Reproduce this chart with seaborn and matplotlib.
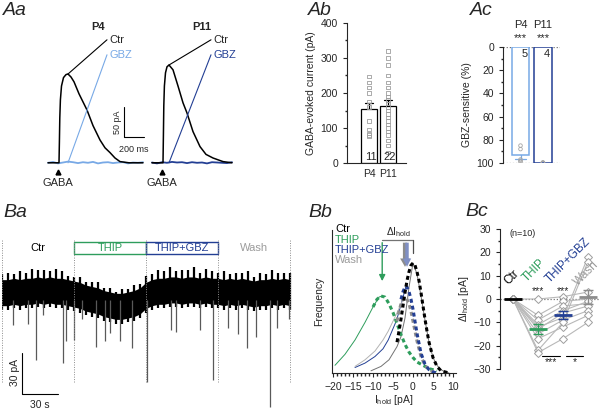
import numpy as np
import pandas as pd
import matplotlib
matplotlib.use("Agg")
import matplotlib.pyplot as plt
from matplotlib.patches import Rectangle
import seaborn as sns

# colours
GREEN = "#2e9d5c"
LBLUE = "#78a9e6"
DBLUE = "#233f94"
GREY = "#9b9b9b"

# ---- Aa: GABA evoked currents (time ms, current pA)
stim_t = 0
p4_ctr_t = [-110, -10, 0, 4, 8, 14, 25, 45, 70, 90, 120, 150, 200, 280, 340, 410, 460, 510, 560, 610, 700, 840]
p4_ctr_i = [0, 0, 0, 35, 75, 105, 128, 142, 147, 148, 143, 135, 115, 88, 62, 38, 25, 17, 8, 2, 0, 0]
p11_ctr_t = [-110, -10, 0, 4, 8, 14, 25, 40, 60, 100, 150, 200, 240, 300, 370, 430, 500, 600, 690]
p11_ctr_i = [0, 0, 0, 45, 95, 128, 150, 160, 163, 155, 128, 100, 83, 52, 27, 14, 8, 2, 0]
p4_gbz_t = [-110, -60, -10, 40, 90, 140, 190, 240, 290, 340, 390, 440, 490, 540, 590, 640, 690, 740, 790, 840]
p4_gbz_i = [0, 1.5, -1, 0.5, 2, 1, -0.5, 1, 0, 1.5, -1, 0.5, 1, -0.5, 0.5, 1, -1, 0.5, 0, 1]
p11_gbz_t = [-110, -60, -10, 40, 90, 140, 190, 240, 290, 340, 390, 440, 490, 540, 590, 640, 690]
p11_gbz_i = [0.5, -1, 1, 0, 1.5, 0.5, 1, -0.5, 1, 0, 0.5, -1, 1, 0.5, 0, -0.5, 1]

# ---- Ab: GABA-evoked current amplitudes (pA)
ages = ["P4", "P11"]
ab_p4 = [248, 230, 215, 200, 175, 160, 120, 95, 85, 80, 75]
ab_p11 = [320, 300, 280, 250, 230, 215, 200, 190, 180, 170, 160,
          150, 140, 130, 120, 110, 100, 90, 80, 65, 50, 30]

# ---- Ac: GBZ-sensitive fraction (%)
ac_p4 = [85, 88, 97, 98, 99]
ac_p11 = [99.5, 100, 100, 99.8]

# ---- Ba: holding current trace (time s, current pA)
sections = [0, 60, 120, 180, 240]
section_names = ["Ctr", "THIP", "THIP+GBZ", "Wash"]
burst_t = list(range(0, 245, 5))
burst_base = [0, 0, 1, 0, 1, 1, 2, 1, 2, 1, 1, 0,
              -1, -2, -4, -5, -6, -8, -9, -10, -10, -9, -8, -6,
              -2, 0, 1, 1, 2, 2, 1, 2, 2, 1, 2, 1,
              1, 0, 1, 0, 1, 0, -1, 0, 0, 1, 0, 1, 0]
burst_top = [13, 14, 12, 15, 13, 16, 14, 15, 13, 16, 14, 12,
             12, 13, 11, 12, 13, 11, 12, 10, 12, 11, 13, 12,
             14, 13, 15, 14, 16, 13, 15, 14, 16, 13, 15, 14,
             13, 15, 12, 14, 13, 15, 12, 14, 13, 15, 14, 13, 14]
event_t = [9, 22, 28, 34, 51, 53, 60, 67, 78, 86, 90, 98, 108, 121, 141, 145,
           165, 176, 188, 197, 204, 212, 223, 229, 239]
event_lvl = [-24, -23, -50, -17, -52, -36, -35, -20, -40, -36, -30, -36, -41, -66,
             -28, -29, -28, -64, -26, -31, -41, -33, -84, -26, -20]

# ---- Bb: I_hold distributions (pA, normalised frequency)
ctr_raw_x = [-10.5, -8, -6, -4, -3, -2, -1, 0, 1, 2, 3, 4, 5, 6, 7, 8, 9]
ctr_raw_y = [0.02, 0.06, 0.12, 0.24, 0.33, 0.5, 0.78, 1.0, 0.9, 0.7, 0.48, 0.28, 0.14, 0.07, 0.03, 0.01, 0.0]
thip_raw_x = [-19.5, -17, -14.5, -12, -10, -8.5, -7.8]
thip_raw_y = [0.07, 0.17, 0.3, 0.46, 0.6, 0.69, 0.7]
gbz_raw_x = [-14.5, -12, -9.5, -7.5, -6.2, -4.1, -2.4, -1.75]
gbz_raw_y = [0.05, 0.09, 0.15, 0.22, 0.3, 0.48, 0.7, 0.79]
wash_raw_x = [-14.5, -12, -9.5, -7.5, -6.2, -3.7, -2.6, -2]
wash_raw_y = [0.06, 0.12, 0.2, 0.3, 0.38, 0.57, 0.66, 0.69]

ctr_fit_x = [-4, -3.5, -3, -2.5, -2, -1.5, -1, -0.5, 0, 0.5, 1, 1.5, 2, 2.5, 3, 3.5, 4, 5, 6, 7, 8, 9]
ctr_fit_y = [0.28, 0.38, 0.49, 0.61, 0.73, 0.84, 0.92, 0.98, 1.0, 0.98, 0.92, 0.84, 0.73, 0.61, 0.49,
             0.38, 0.28, 0.14, 0.06, 0.02, 0.01, 0.0]
thip_fit_x = [-10, -9, -8, -7, -6, -5, -4, -3, -2, -1, 0, 1, 2, 3, 4, 5, 6]
thip_fit_y = [0.6, 0.67, 0.7, 0.69, 0.63, 0.55, 0.45, 0.35, 0.26, 0.19, 0.14, 0.1, 0.08, 0.06, 0.04, 0.03, 0.02]
gbz_fit_x = [-3, -2.5, -2, -1.75, -1.5, -1, -0.5, 0, 0.5, 1, 1.5, 2, 3, 4, 5, 6]
gbz_fit_y = [0.67, 0.74, 0.78, 0.79, 0.78, 0.74, 0.67, 0.58, 0.47, 0.36, 0.27, 0.18, 0.08, 0.03, 0.01, 0.0]
wash_fit_x = [-4, -3.5, -3, -2.5, -2, -1.5, -1, -0.5, 0, 0.5, 1, 2, 3, 4, 5]
wash_fit_y = [0.47, 0.56, 0.63, 0.67, 0.69, 0.67, 0.63, 0.56, 0.47, 0.38, 0.29, 0.15, 0.07, 0.03, 0.01]

# ---- Bc: change of holding current per cell (pA)
conditions = ["Ctr", "THIP", "THIP+GBZ", "Wash"]
bc_ctr = [0, 0, 0, 0, 0, 0, 0, 0, 0, 0]
bc_thip = [0, -7, -9, -11, -12, -13, -15, -17, -22, -23]
bc_gbz = [1, -1, -3, -5, -8, -6, -9, -12, -10, -17]
bc_wash = [3, 0, -2, -1, 18, -3, -5, -7, 16, -10]

sns.set_theme(style="ticks")
plt.rcParams["font.family"] = ["Liberation Sans", "DejaVu Sans"]
plt.rcParams["mathtext.default"] = "regular"
plt.rcParams["xtick.labelsize"] = 7.5
plt.rcParams["ytick.labelsize"] = 7.5
plt.rcParams["axes.labelsize"] = 7.5
plt.rcParams["axes.linewidth"] = 0.8
plt.rcParams["xtick.major.width"] = 0.8
plt.rcParams["ytick.major.width"] = 0.8
plt.rcParams["xtick.major.size"] = 3
plt.rcParams["ytick.major.size"] = 3
plt.rcParams["xtick.minor.size"] = 1.8
plt.rcParams["ytick.minor.size"] = 1.8

W, H = 602, 409
fig = plt.figure(figsize=(W / 100, H / 100), dpi=100)


def px_axes(x0, y0, x1, y1):
    return fig.add_axes([x0 / W, 1 - y1 / H, (x1 - x0) / W, (y1 - y0) / H])


for lab, x, y in [("Aa", 3, 2), ("Ab", 308, 2), ("Ac", 470, 2),
                  ("Ba", 3, 204), ("Bb", 308, 204), ("Bc", 465, 203)]:
    fig.text(x / W, 1 - y / H, lab, fontsize=14, style="italic", va="top", ha="left")

# ---------------- Aa
for (x0, x1, xl, ct, ci, gt, gi, gcol, title) in [
        (40, 148, (-190, 890), p4_ctr_t, p4_ctr_i, p4_gbz_t, p4_gbz_i, LBLUE, "P4"),
        (148, 240, (-150, 770), p11_ctr_t, p11_ctr_i, p11_gbz_t, p11_gbz_i, DBLUE, "P11")]:
    ax = px_axes(x0, 20, x1, 200)
    sns.lineplot(x=gt, y=gi, color=gcol, lw=1.3, ax=ax)
    sns.lineplot(x=ct, y=ci, color="black", lw=1.1, ax=ax)
    pk = int(np.argmax(ci))
    ax.plot([ct[pk], 480], [ci[pk], 205], color="black", lw=0.8)
    ax.plot([ct[pk], 480], [0, 180], color=gcol, lw=0.8)
    ax.text(500, 205, "Ctr", fontsize=8, va="center")
    ax.text(500, 180, "GBZ", fontsize=8, va="center", color=gcol)
    ax.text(390, 227, title, fontsize=8, fontweight="bold", ha="center", va="center")
    ax.plot(stim_t - 10, -15, marker="^", color="black", ms=3.5)
    ax.text(stim_t - 10, -33, "GABA", fontsize=8, ha="center", va="center")
    ax.set_xlim(*xl)
    ax.set_ylim(-62, 238)
    ax.axis("off")
    if title == "P4":
        ax.plot([650, 650, 850], [93, 43, 43], color="black", lw=0.8)
        ax.text(590, 68, "50 pA", rotation=90, fontsize=6.5, ha="center", va="center")
        ax.text(750, 30, "200 ms", fontsize=6.5, ha="center", va="top")

# ---------------- Ab
ab_df = pd.DataFrame({"age": ["P4"] * len(ab_p4) + ["P11"] * len(ab_p11),
                      "current": ab_p4 + ab_p11})
ax = px_axes(347, 23, 406, 163)
sns.barplot(data=ab_df, x="age", y="current", order=ages, errorbar="se", capsize=0.45,
            color="white", edgecolor="black", linewidth=0.9, width=0.88,
            err_kws={"color": "black", "linewidth": 0.9}, ax=ax)
for ln in ax.lines:
    ln.set_zorder(0.5)
for p in ax.patches:
    p.set_zorder(1)
    p.set_facecolor("white")
sns.stripplot(data=ab_df, x="age", y="current", order=ages, jitter=False, marker="s",
              size=2.4, color="white", edgecolor="0.62", linewidth=0.6, ax=ax)
for c in ax.collections:
    c.set_facecolor("none")
    c.set_zorder(3)
for i, vals in enumerate([ab_p4, ab_p11]):
    ax.text(i + 0.42, 3, str(len(vals)), fontsize=8, ha="right", va="bottom", zorder=4)
ax.set_xlim(-1.16, 1.95)
ax.set_ylim(0, 400)
ax.set_yticks([0, 100, 200, 300, 400])
ax.set_yticks(range(50, 400, 100), minor=True)
ax.set_xlabel("")
ax.set_ylabel("GABA-evoked current (pA)", labelpad=3)
ax.tick_params(axis="x", length=0, pad=4)
sns.despine(ax=ax)

# ---------------- Ac
ac_df = pd.DataFrame({"age": ["P4"] * len(ac_p4) + ["P11"] * len(ac_p11),
                      "frac": ac_p4 + ac_p11})
ax = px_axes(503, 47, 560, 163)
sns.barplot(data=ac_df, x="age", y="frac", order=ages, errorbar="se", capsize=0.45,
            color="white", linewidth=1.1, width=0.78,
            err_kws={"color": LBLUE, "linewidth": 0.9}, ax=ax)
for p, col in zip(ax.patches, [LBLUE, DBLUE]):
    p.set_edgecolor(col)
    p.set_facecolor("white")
    p.set_zorder(1)
for ln in ax.lines:
    ln.set_zorder(0.5)
    if np.nanmean(ln.get_xdata()) > 0.5:
        ln.set_color(DBLUE)
sns.stripplot(data=ac_df, x="age", y="frac", order=ages, jitter=False, marker="o",
              size=2.6, color="white", edgecolor="0.65", linewidth=0.6, ax=ax)
for c in ax.collections:
    c.set_facecolor("none")
    c.set_zorder(3)
ax.axhline(0, color="0.45", ls=(0, (1, 1.5)), lw=0.9, zorder=0)
ax.axhline(100, color="0.45", ls=(0, (1, 1.5)), lw=0.9, zorder=0)
for i, (lab, vals) in enumerate(zip(ages, [ac_p4, ac_p11])):
    ax.text(i, -19, lab, fontsize=8, ha="center", va="center")
    ax.text(i, -3, "***", fontsize=8, ha="center", va="bottom")
    ax.text(i + 0.33, 2, str(len(vals)), fontsize=8, ha="right", va="top")
ax.set_xlim(-0.78, 1.76)
ax.set_ylim(100, 0)
ax.set_yticks([0, 20, 40, 60, 80, 100])
ax.set_yticks(range(10, 100, 20), minor=True)
ax.set_xticks([])
ax.set_xlabel("")
ax.set_ylabel("GBZ-sensitive (%)", labelpad=3)
sns.despine(ax=ax, bottom=True)

# ---------------- Ba
ax = px_axes(2, 238, 298, 409)
base = np.array(burst_base)
ax.fill_between(burst_t, base - 10, base + 9, color="black", lw=0)
ax.vlines(burst_t, base - 13, base + np.array(burst_top), color="black", lw=1.6)
ax.vlines(event_t, event_lvl, -6, color="0.35", lw=0.9)
ax.vlines(sections, -66, 38, colors="0.55", linestyles=(0, (1, 1.5)), lw=0.7)
name_cols = ["black", GREEN, DBLUE, GREY]
for i, (nm, col) in enumerate(zip(section_names, name_cols)):
    a, b = sections[i], sections[i + 1]
    if nm in ("THIP", "THIP+GBZ"):
        ax.add_patch(Rectangle((a, 27.7), b - a, 8.8, fill=False, edgecolor=col, lw=1))
    ax.text((a + b) / 2, 32, nm, color=col, fontsize=8, ha="center", va="center")
ax.plot([16.7, 16.7, 46.7], [-44.5, -74.5, -74.5], color="black", lw=0.8)
ax.text(10.5, -59, "30 pA", rotation=90, fontsize=7.5, ha="center", va="center")
ax.text(31.7, -78.5, "30 s", fontsize=7.5, ha="center", va="top")
ax.set_xlim(0, 246.7)
ax.set_ylim(-85.4, 39.4)
ax.axis("off")

# ---------------- Bb
ax = px_axes(332, 230, 456, 373)
for x, y, col in [(thip_raw_x, thip_raw_y, GREEN), (gbz_raw_x, gbz_raw_y, DBLUE),
                  (wash_raw_x, wash_raw_y, "0.7"), (ctr_raw_x, ctr_raw_y, "0.45")]:
    sns.lineplot(x=x, y=y, color=col, lw=0.7, ax=ax)
for x, y, col in [(thip_fit_x, thip_fit_y, GREEN), (wash_fit_x, wash_fit_y, "0.55"),
                  (gbz_fit_x, gbz_fit_y, DBLUE), (ctr_fit_x, ctr_fit_y, "black")]:
    sns.lineplot(x=x, y=y, color=col, lw=2.2, linestyle=(0, (1.3, 1.0)), ax=ax)
ax.plot([-7.7, 0], [1.21, 1.21], color="0.45", lw=0.9)
ax.plot([0, 0], [1.21, 1.09], color="0.3", lw=0.9)
ax.annotate("", xy=(-7.7, 0.81), xytext=(-7.7, 1.21),
            arrowprops=dict(arrowstyle="-|>", color=GREEN, lw=1, mutation_scale=9))
ax.annotate("", xy=(-2.0, 0.94), xytext=(-2.0, 1.21),
            arrowprops=dict(arrowstyle="simple,head_width=0.7,head_length=0.6,tail_width=0.3",
                            color="0.55", lw=0, mutation_scale=10))
ax.annotate("", xy=(-1.5, 0.94), xytext=(-1.5, 1.21),
            arrowprops=dict(arrowstyle="simple,head_width=0.6,head_length=0.6,tail_width=0.25",
                            color="#7f8fc4", lw=0, mutation_scale=10))
ax.text(-3.5, 1.28, "ΔI$_{hold}$", fontsize=7.5, ha="center", va="center")
for txt, yy, col in [("Ctr", 1.31, "black"), ("THIP", 1.21, GREEN),
                     ("THIP+GBZ", 1.12, DBLUE), ("Wash", 1.03, GREY)]:
    ax.text(-19.5, yy, txt, color=col, fontsize=8, va="center", ha="left")
ax.set_xlim(-20.25, 10.75)
ax.set_ylim(0, 1.3)
ax.set_xticks([-20, -15, -10, -5, 0, 5, 10])
ax.set_xticks(range(-20, 11), minor=True)
ax.set_yticks([])
ax.set_xlabel("I$_{hold}$ [pA]", labelpad=1)
ax.set_ylabel("Frequency", labelpad=6)
sns.despine(ax=ax)

# ---------------- Bc
bc_df = pd.DataFrame({
    "cell": list(range(10)) * 4,
    "cond": sum([[i] * 10 for i in range(4)], []),
    "dI": bc_ctr + bc_thip + bc_gbz + bc_wash,
})
ax = px_axes(500, 229, 600, 369)
ax.axhline(0, color="0.45", ls=(0, (1, 1.5)), lw=0.9, zorder=0)
sns.lineplot(data=bc_df, x="cond", y="dI", units="cell", estimator=None, color="0.72",
             lw=0.8, marker="D", markersize=4, markerfacecolor="white",
             markeredgecolor="0.62", markeredgewidth=0.7, ax=ax, zorder=1)
stats = bc_df.groupby("cond")["dI"].agg(["mean", "sem"])
mean_cols = ["black", GREEN, DBLUE, "0.55"]
for i, col in enumerate(mean_cols):
    m, s = stats.loc[i, "mean"], stats.loc[i, "sem"]
    ax.hlines(m, i - 0.36, i + 0.36, color=col, lw=2, zorder=4)
    if s > 0:
        ax.errorbar(i, m, yerr=s, color=col, capsize=3.5, lw=1, capthick=1, zorder=4)
label_pos = [(-0.1, 5.0), (0.62, 6.2), (1.56, 6.0), (2.68, 4.5)]
for (nm, col, (x, y)) in zip(conditions, mean_cols[:3] + [GREY], label_pos):
    ax.text(x, y, nm, color=col, fontsize=8.5, rotation=45, rotation_mode="anchor",
            ha="left", va="bottom", clip_on=False)
for i in (1, 2):
    ax.text(i, 3.4, "***", fontsize=7.5, ha="center", va="center")
ax.text(-0.15, 28, "(n=10)", fontsize=6.5, ha="left", va="center")
ax.plot([1.16, 1.88], [-24.5, -24.5], color="black", lw=0.8)
ax.text(1.52, -27, "***", fontsize=7.5, ha="center", va="center")
ax.plot([2.12, 2.8], [-24.5, -24.5], color="black", lw=0.8)
ax.text(2.46, -27, "*", fontsize=7.5, ha="center", va="center")
ax.set_xlim(-0.52, 3.48)
ax.set_ylim(-30, 30)
ax.set_yticks(range(-30, 31, 10))
ax.set_yticks(range(-25, 30, 10), minor=True)
ax.set_xticks([])
ax.set_xlabel("")
ax.set_ylabel("ΔI$_{hold}$ [pA]", labelpad=2)
sns.despine(ax=ax, bottom=True)

fig.savefig("out.png", dpi=100, facecolor="white")
